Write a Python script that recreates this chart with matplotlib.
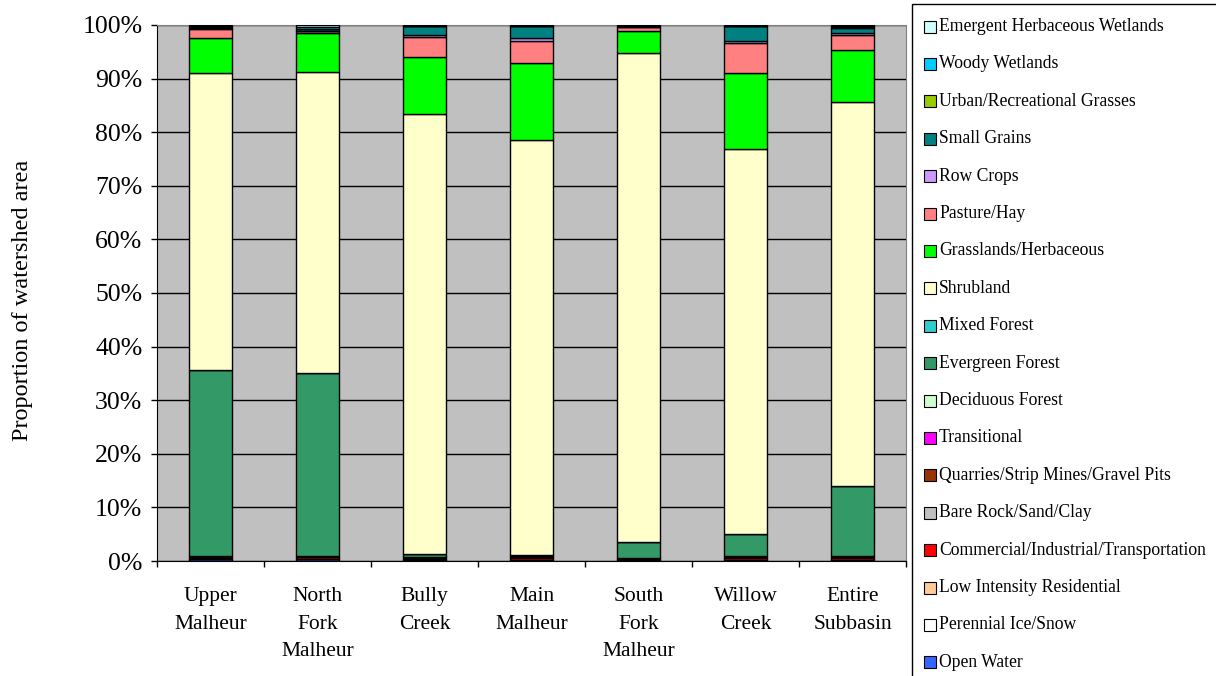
import numpy as np
import matplotlib
matplotlib.use("Agg")
import matplotlib.pyplot as plt
from matplotlib.patches import Rectangle

plt.rcParams['font.family'] = ['Liberation Serif', 'DejaVu Serif']

watersheds = ["Upper\nMalheur", "North\nFork\nMalheur", "Bully\nCreek", "Main\nMalheur",
              "South\nFork\nMalheur", "Willow\nCreek", "Entire\nSubbasin"]

# Land cover classes, bottom of the stack first
classes = ["Open Water", "Perennial Ice/Snow", "Low Intensity Residential",
           "Commercial/Industrial/Transportation", "Bare Rock/Sand/Clay",
           "Quarries/Strip Mines/Gravel Pits", "Transitional", "Deciduous Forest",
           "Evergreen Forest", "Mixed Forest", "Shrubland", "Grasslands/Herbaceous",
           "Pasture/Hay", "Row Crops", "Small Grains", "Urban/Recreational Grasses",
           "Woody Wetlands", "Emergent Herbaceous Wetlands"]

colors = ["#3366FF", "#FFFFFF", "#FFCC99", "#FF0000", "#C0C0C0", "#993300", "#FF00FF",
          "#CCFFCC", "#339966", "#33CCCC", "#FFFFCC", "#00FF00", "#FF8080", "#CC99FF",
          "#008080", "#99CC00", "#00CCFF", "#CCFFFF"]

# Percent of watershed area per class (same order as watersheds)
open_water      = [0.40, 0.40, 0.10, 0.20, 0.05, 0.10, 0.20]
ice_snow        = [0.00, 0.00, 0.00, 0.00, 0.00, 0.00, 0.00]
low_residential = [0.05, 0.05, 0.05, 0.05, 0.05, 0.05, 0.05]
commercial      = [0.20, 0.25, 0.30, 0.35, 0.20, 0.35, 0.30]
bare_rock       = [0.10, 0.10, 0.10, 0.20, 0.10, 0.20, 0.15]
quarries        = [0.05, 0.05, 0.05, 0.05, 0.05, 0.05, 0.05]
transitional    = [0.10, 0.10, 0.05, 0.10, 0.05, 0.10, 0.10]
deciduous       = [0.05, 0.05, 0.05, 0.05, 0.05, 0.05, 0.05]
evergreen       = [34.70, 34.00, 0.55, 0.10, 2.95, 4.10, 13.10]
mixed_forest    = [0.05, 0.10, 0.05, 0.00, 0.05, 0.00, 0.05]
shrubland       = [55.30, 56.20, 82.10, 77.40, 91.25, 71.90, 71.55]
grasslands      = [6.50, 7.30, 10.60, 14.40, 4.00, 14.10, 9.70]
pasture_hay     = [1.80, 0.30, 3.70, 4.10, 0.80, 5.70, 2.80]
row_crops       = [0.05, 0.05, 0.40, 0.60, 0.05, 0.40, 0.50]
small_grains    = [0.25, 0.30, 1.70, 2.20, 0.15, 2.70, 0.90]
urban_grasses   = [0.05, 0.05, 0.05, 0.05, 0.05, 0.05, 0.05]
woody_wetlands  = [0.15, 0.35, 0.05, 0.05, 0.05, 0.05, 0.20]
emergent_wet    = [0.20, 0.35, 0.10, 0.10, 0.10, 0.10, 0.25]

series = [open_water, ice_snow, low_residential, commercial, bare_rock, quarries,
          transitional, deciduous, evergreen, mixed_forest, shrubland, grasslands,
          pasture_hay, row_crops, small_grains, urban_grasses, woody_wetlands, emergent_wet]

W, H = 1216, 676
fig = plt.figure(figsize=(W / 100, H / 100), dpi=100)
ax = fig.add_axes([157 / W, 1 - 561 / H, (906 - 157) / W, (561 - 25) / H])
ax.set_facecolor("#C0C0C0")

x = np.arange(len(watersheds))
bottom = np.zeros(len(watersheds))
for vals, col in zip(series, colors):
    v = np.array(vals)
    ax.bar(x, v, width=0.4, bottom=bottom, color=col, edgecolor="black",
           linewidth=1.0, zorder=3)
    bottom += v

ax.set_xlim(-0.5, len(watersheds) - 0.5)
ax.set_ylim(0, 100)
ax.set_yticks(np.arange(0, 101, 10))
ax.set_yticklabels([f"{t}%" for t in range(0, 101, 10)], fontsize=18.5)
ax.yaxis.grid(True, color="black", linewidth=1.0, zorder=1)
ax.set_axisbelow(True)

ax.set_xticks(x)
ax.set_xticklabels(watersheds, fontsize=15.5, linespacing=1.58, va="top")
ax.tick_params(axis="x", length=0, pad=19)
ax.set_xticks(np.arange(-0.5, len(watersheds), 1), minor=True)
ax.tick_params(axis="x", which="minor", length=4.5, width=1, direction="out")
ax.tick_params(axis="y", length=4.5, width=1, direction="out", pad=6)

ax.spines["left"].set_color("black")
ax.spines["bottom"].set_color("black")
ax.spines["top"].set_color("#808080")
ax.spines["right"].set_color("#808080")

ax.set_ylabel("Proportion of watershed area", fontsize=17.5)
ax.yaxis.set_label_coords((33 - 157) / (906 - 157), (561 - 300) / (561 - 25))

# Legend panel on the right, top entry first
fig.add_artist(Rectangle((912 / W, -0.05), 0.3, 1 - 4 / H + 0.05,
                         transform=fig.transFigure, facecolor="white",
                         edgecolor="black", linewidth=1.0))
for i, (name, col) in enumerate(zip(classes[::-1], colors[::-1])):
    yc = 26.5 + i * 37.4
    fig.add_artist(Rectangle((924 / W, 1 - (yc + 6) / H), 12 / W, 12 / H,
                             transform=fig.transFigure, facecolor=col,
                             edgecolor="black", linewidth=0.8))
    fig.text(939 / W, 1 - yc / H, name, fontsize=12.7, va="center", ha="left")

fig.savefig("out.png", dpi=100)
